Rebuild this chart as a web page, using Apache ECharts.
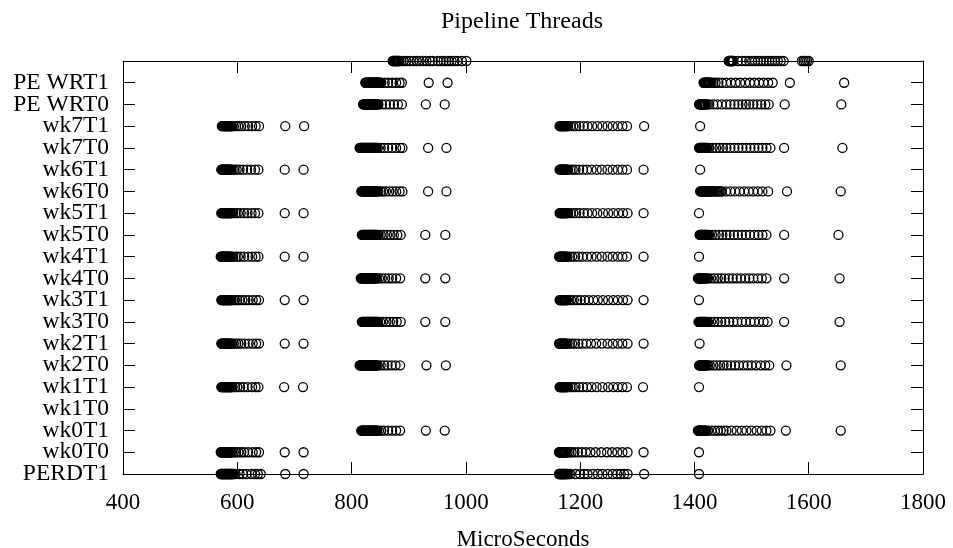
<!DOCTYPE html>
<html>
<head>
<meta charset="utf-8">
<script src="https://cdn.jsdelivr.net/npm/echarts@6/dist/echarts.min.js"></script>
<style>html,body{margin:0;padding:0;background:#fff;}#c{width:953px;height:548px;}</style>
</head>
<body>
<div id="c"></div>
<script>
const categories = ['PERDT1','wk0T0','wk0T1','wk1T0','wk1T1','wk2T0','wk2T1','wk3T0','wk3T1','wk4T0','wk4T1','wk5T0','wk5T1','wk6T0','wk6T1','wk7T0','wk7T1','PE WRT0','PE WRT1',''];
const xMin = 400, xMax = 1800, xStep = 200;

const PERDT1 = [571,572,573,574,575,576,577,578,579,580,581,582,583,584,585,586,587,588,589,590,591,592,594,597,604,610,616,625,631,636,641,684,716,
  1163,1164,1165,1166,1167,1168,1169,1170,1171,1172,1173,1174,1175,1176,1178,1180,1183,1192,1200,1207,1213,1222,1231,1239,1248,1257,1265,1271,1277,1283,1312,1408];
const wk0T0 = [571,572,573,574,575,576,577,578,579,580,581,582,583,584,585,586,587,588,589,591,594,598,602,607,612,619,627,633,638,683,716,
  1163,1164,1165,1166,1167,1168,1169,1170,1171,1172,1173,1174,1175,1176,1178,1181,1185,1190,1196,1203,1210,1218,1227,1237,1247,1256,1265,1274,1283,1311,1408];
const wk0T1 = [817,818,819,820,821,822,823,824,825,826,827,828,829,830,831,832,833,834,835,836,837,838,839,840,841,842,843,844,845,848,852,857,864,871,878,885,930,963,
  1406,1407,1408,1409,1410,1411,1412,1413,1414,1415,1416,1417,1418,1419,1421,1424,1430,1436,1441,1446,1451,1456,1465,1474,1483,1491,1500,1509,1518,1526,1533,1560,1656];
const wk1T0 = [];
const wk1T1 = [572,573,574,575,576,577,578,579,580,581,582,583,584,585,586,587,588,589,590,592,596,600,605,611,618,626,632,637,682,715,
  1164,1165,1166,1167,1168,1169,1170,1171,1172,1173,1174,1175,1176,1177,1179,1183,1187,1192,1198,1205,1212,1220,1229,1239,1249,1258,1266,1274,1282,1310,1408];
const wk2T0 = [814,815,816,817,818,819,820,821,822,823,824,825,826,827,828,829,830,831,832,833,834,835,836,837,838,839,840,841,842,843,844,846,851,857,863,870,877,885,931,965,
  1408,1409,1410,1411,1412,1413,1414,1415,1416,1417,1418,1419,1420,1422,1424,1427,1433,1439,1445,1451,1457,1464,1471,1478,1486,1493,1500,1508,1516,1524,1531,1561,1656];
const wk2T1 = [572,573,574,575,576,577,578,579,580,581,582,583,584,585,586,587,588,589,591,594,598,602,607,613,620,627,633,638,683,716,
  1163,1164,1165,1166,1167,1168,1169,1170,1171,1172,1173,1174,1175,1176,1178,1182,1186,1191,1197,1204,1211,1219,1228,1238,1248,1257,1266,1274,1283,1311,1409];
const wk3T0 = [818,819,820,821,822,823,824,825,826,827,828,829,830,831,832,833,834,835,836,837,838,839,840,841,842,843,844,845,846,850,855,861,867,873,879,886,929,964,
  1407,1408,1409,1410,1411,1412,1413,1414,1415,1416,1417,1418,1419,1420,1422,1424,1429,1435,1441,1447,1454,1461,1468,1475,1483,1490,1498,1505,1513,1521,1528,1557,1654];
const wk3T1 = [572,573,574,575,576,577,578,579,580,581,582,583,584,585,586,587,588,589,590,593,596,600,604,609,614,620,627,633,638,683,716,
  1164,1165,1166,1167,1168,1169,1170,1171,1172,1173,1174,1175,1176,1177,1180,1184,1189,1195,1201,1208,1215,1223,1231,1240,1249,1258,1266,1275,1283,1311,1408];
const wk4T0 = [816,817,818,819,820,821,822,823,824,825,826,827,828,829,830,831,832,833,834,835,836,837,838,839,840,841,842,843,844,848,853,859,865,871,878,885,929,964,
  1406,1407,1408,1409,1410,1411,1412,1413,1414,1415,1416,1417,1418,1420,1422,1424,1429,1435,1441,1447,1453,1460,1467,1474,1481,1489,1496,1503,1511,1518,1526,1557,1654];
const wk4T1 = [571,572,573,574,575,576,577,578,579,580,581,582,583,584,585,586,587,588,590,593,597,601,606,612,619,626,632,637,683,716,
  1163,1164,1165,1166,1167,1168,1169,1170,1171,1172,1173,1174,1175,1176,1178,1182,1186,1191,1197,1204,1212,1220,1229,1238,1248,1257,1266,1274,1282,1311,1408];
const wk5T0 = [818,819,820,821,822,823,824,825,826,827,828,829,830,831,832,833,834,835,836,837,838,839,840,841,842,843,844,845,847,851,856,862,868,874,880,886,929,964,
  1409,1410,1411,1412,1413,1414,1415,1416,1417,1418,1419,1420,1421,1422,1424,1426,1431,1437,1443,1449,1456,1462,1469,1476,1483,1490,1497,1505,1512,1519,1526,1557,1652];
const wk5T1 = [572,573,574,575,576,577,578,579,580,581,582,583,584,585,586,587,588,589,590,593,597,601,606,612,618,625,631,637,683,716,
  1164,1165,1166,1167,1168,1169,1170,1171,1172,1173,1174,1175,1176,1177,1179,1183,1188,1193,1199,1206,1213,1221,1230,1240,1249,1258,1267,1275,1283,1311,1408];
const wk6T0 = [817,818,819,820,821,822,823,824,825,826,827,828,829,830,831,832,833,834,835,836,837,838,839,840,841,842,843,844,845,847,851,855,860,866,872,878,884,889,934,966,
  1410,1411,1412,1413,1414,1415,1416,1417,1418,1419,1420,1421,1422,1423,1424,1425,1426,1427,1428,1430,1432,1434,1436,1438,1440,1442,1444,1446,1448,1455,1463,1471,1479,1487,1495,1503,1511,1519,1529,1562,1656];
const wk6T1 = [572,573,574,575,576,577,578,579,580,581,582,583,584,585,586,587,588,589,592,595,599,604,610,617,624,631,637,683,716,
  1164,1165,1166,1167,1168,1169,1170,1171,1172,1173,1174,1175,1176,1177,1179,1183,1187,1192,1198,1205,1212,1220,1229,1238,1248,1257,1266,1274,1282,1311,1410];
const wk7T0 = [814,815,816,817,818,819,820,821,822,823,824,825,826,827,828,829,830,831,832,833,834,835,836,837,838,839,840,841,842,843,844,846,851,857,864,871,878,885,889,934,966,
  1408,1409,1410,1411,1412,1413,1414,1415,1416,1417,1418,1419,1420,1421,1423,1426,1432,1438,1444,1450,1456,1463,1470,1477,1484,1491,1498,1505,1512,1519,1526,1533,1557,1659];
const wk7T1 = [573,574,575,576,577,578,579,580,581,582,583,584,585,586,587,588,589,590,591,594,598,602,607,613,619,626,632,638,684,717,
  1164,1165,1166,1167,1168,1169,1170,1171,1172,1173,1174,1175,1176,1177,1179,1183,1188,1193,1199,1206,1213,1221,1230,1239,1248,1257,1266,1274,1282,1312,1410];
const PE_WRT0 = [820,821,822,823,824,825,826,827,828,829,830,831,832,833,834,835,836,837,838,839,840,841,842,843,844,845,846,847,853,860,867,874,881,888,930,963,
  1408,1409,1410,1411,1412,1413,1414,1415,1416,1417,1418,1419,1420,1423,1426,1433,1440,1448,1456,1463,1470,1477,1484,1490,1496,1503,1510,1517,1524,1530,1558,1657];
const PE_WRT1 = [824,825,826,827,828,829,830,831,832,833,834,835,836,837,838,839,840,841,842,843,844,845,846,847,848,849,850,852,858,864,871,878,884,888,935,968,
  1416,1417,1418,1419,1420,1421,1422,1423,1424,1425,1426,1427,1428,1430,1433,1437,1442,1448,1456,1464,1472,1480,1489,1497,1505,1513,1521,1529,1537,1567,1662];
const TOP_ROW = [872,873,874,875,876,877,878,879,880,881,882,883,884,887,891,896,902,908,914,919,925,931,937,942,951,956,961,966,970,975,980,985,993,1001,
  1460,1461,1462,1463,1464,1465,1466,1467,1468,1476,1483,1490,1496,1501,1506,1511,1516,1521,1526,1531,1536,1541,1546,1551,1556,1588,1591,1594,1597,1600];

const rows = [PERDT1, wk0T0, wk0T1, wk1T0, wk1T1, wk2T0, wk2T1, wk3T0, wk3T1, wk4T0, wk4T1,
  wk5T0, wk5T1, wk6T0, wk6T1, wk7T0, wk7T1, PE_WRT0, PE_WRT1, TOP_ROW];

const points = [];
rows.forEach((arr, i) => arr.forEach(v => points.push([v, i])));

const FONT = "'Liberation Serif', 'Times New Roman', serif";
const lineStyle = { color: '#000', width: 1 };

const chart = echarts.init(document.getElementById('c'), null, { renderer: 'canvas' });
chart.setOption({
  animation: false,
  backgroundColor: '#fff',
  title: {
    text: 'Pipeline Threads',
    left: 517, top: 5, textAlign: 'center',
    textStyle: { fontFamily: FONT, fontSize: 24, fontWeight: 'normal', color: '#000' }
  },
  grid: { left: 123, right: 30, top: 61, bottom: 74, containLabel: false, outerBoundsMode: 'none' },
  xAxis: [
    {
      type: 'value', min: xMin, max: xMax, interval: xStep, position: 'bottom',
      name: 'MicroSeconds', nameLocation: 'middle', nameGap: 54,
      nameTextStyle: { fontFamily: FONT, fontSize: 23, color: '#000' },
      axisLine: { show: true, onZero: false, lineStyle },
      axisTick: { show: true, inside: true, length: 12, lineStyle },
      axisLabel: { fontFamily: FONT, fontSize: 23, color: '#000', margin: 17, formatter: v => String(v) },
      splitLine: { show: false }
    },
    {
      type: 'value', min: xMin, max: xMax, interval: xStep, position: 'top',
      axisLine: { show: true, onZero: false, lineStyle },
      axisTick: { show: true, inside: true, length: 12, lineStyle },
      axisLabel: { show: false },
      splitLine: { show: false }
    }
  ],
  yAxis: [
    {
      type: 'category', data: categories, boundaryGap: false, position: 'left',
      axisLine: { show: true, onZero: false, lineStyle },
      axisTick: { show: true, inside: true, length: 12, interval: 0, lineStyle },
      axisLabel: { fontFamily: FONT, fontSize: 23.5, color: '#000', margin: 14, interval: 0 },
      splitLine: { show: false }
    },
    {
      type: 'category', data: categories, boundaryGap: false, position: 'right',
      axisLine: { show: true, onZero: false, lineStyle },
      axisTick: { show: true, inside: true, length: 12, interval: 0, lineStyle },
      axisLabel: { show: false },
      splitLine: { show: false }
    }
  ],
  series: [{
    type: 'scatter',
    xAxisIndex: 0, yAxisIndex: 0,
    symbol: 'circle', symbolSize: 9,
    clip: false,
    itemStyle: { color: 'rgba(0,0,0,0)', borderColor: '#000', borderWidth: 1.3, opacity: 1 },
    emphasis: { disabled: true },
    data: points
  }]
});
</script>
</body>
</html>
